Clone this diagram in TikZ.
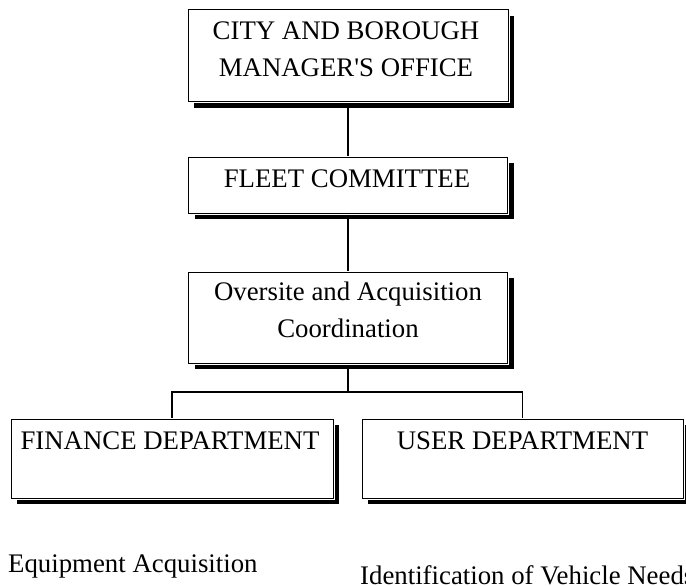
\documentclass[tikz,border=0pt]{standalone}
\usepackage{fontspec}
\setmainfont{Liberation Serif}
\usetikzlibrary{shadows,positioning}

\begin{document}
\begin{tikzpicture}[
    x=1pt, y=-1pt,
    font=\fontsize{26.8}{37}\selectfont,
    box/.style={draw=white, line width=3pt, fill=white, inner sep=0pt,
      postaction={draw=black, line width=1pt},
      general shadow={fill=black, shadow xshift=6pt, shadow yshift=-6pt}},
    txt/.style={inner sep=0pt, align=center},
    link/.style={line width=1.3pt}
  ]
    \useasboundingbox (0,0) rectangle (686,586);
    % boxes
    \node[box, minimum width=320pt, minimum height=92pt] (city) at (348,56) {};
    \node[box, minimum width=319pt, minimum height=56pt] (fleet) at (348,185) {};
    \node[box, minimum width=319pt, minimum height=91pt] (coord) at (348,317.5) {};
    \node[box, minimum width=322pt, minimum height=79pt] (fin) at (172,458.5) {};
    \node[box, minimum width=321pt, minimum height=79pt] (user) at (522.5,458.5) {};
    % box texts
    \node[txt] (city-t) at (346,49) {CITY AND BOROUGH\\MANAGER\textquotesingle S OFFICE};
    \node[txt] (fleet-t) at (347,179) {FLEET COMMITTEE};
    \node[txt] (coord-t) at (348,310) {Oversite and Acquisition\\Coordination};
    \node[txt] (fin-t) at (170,441) {FINANCE DEPARTMENT};
    \node[txt] (user-t) at (522.5,441) {USER DEPARTMENT};
    % duties
    \node[txt, anchor=west] (equip) at (8,566) {Equipment Acquisition};
    \node[txt, anchor=west] (needs) at (360,575) {Identification of Vehicle Needs};
    % links
    \coordinate (bus) at (348,392);
    \draw[link] (city) -- (fleet);
    \draw[link] (fleet) -- (coord);
    \draw[link] (coord.south) -- (bus);
    \draw[link] (fin.north) |- (bus) -| (user.north);
\end{tikzpicture}
\end{document}
